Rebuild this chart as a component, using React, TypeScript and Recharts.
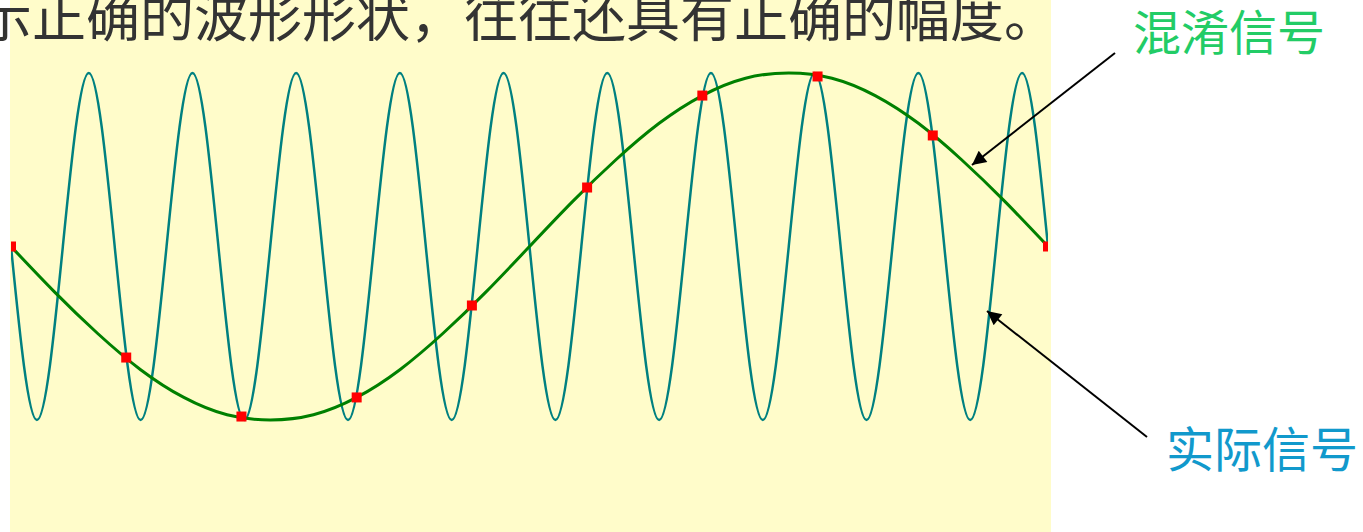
import React from "react";
import { ComposedChart, Line, Scatter, XAxis, YAxis } from "recharts";

// time axis in arbitrary units: actual signal period = 36, sample interval = 40
const actualTime = [
  0, 9, 18, 27, 36, 45, 54, 63, 72, 81, 90, 99, 108, 117, 126, 135, 144, 153,
  162, 171, 180, 189, 198, 207, 216, 225, 234, 243, 252, 261, 270, 279, 288,
  297, 306, 315, 324, 333, 342, 351, 360,
];
const actualValue = [
  0, -1, 0, 1, 0, -1, 0, 1, 0, -1, 0, 1, 0, -1, 0, 1, 0, -1, 0, 1, 0, -1, 0,
  1, 0, -1, 0, 1, 0, -1, 0, 1, 0, -1, 0, 1, 0, -1, 0, 1, 0,
];

const aliasTime = [
  0, 15, 30, 45, 60, 75, 90, 105, 120, 135, 150, 165, 180, 195, 210, 225, 240,
  255, 270, 285, 300, 315, 330, 345, 360,
];
const aliasValue = [
  0, -0.26, -0.5, -0.71, -0.87, -0.97, -1, -0.97, -0.87, -0.71, -0.5, -0.26, 0,
  0.26, 0.5, 0.71, 0.87, 0.97, 1, 0.97, 0.87, 0.71, 0.5, 0.26, 0,
];

const sampleTime = [0, 40, 80, 120, 160, 200, 240, 280, 320, 360];
const sampleValue = [0, -0.64, -0.98, -0.87, -0.34, 0.34, 0.87, 0.98, 0.64, 0];

const titleText = "示正确的波形形状，往往还具有正确的幅度。";
const aliasLabel = "混淆信号";
const actualLabel = "实际信号";

const actualData = actualTime.map((x, i) => ({ x, y: actualValue[i] }));
const aliasData = aliasTime.map((x, i) => ({ x, y: aliasValue[i] }));
const sampleData = sampleTime.map((x, i) => ({ x, y: sampleValue[i] }));

const W = 1363;
const H = 532;
const CJK = '"Noto Sans CJK SC", "Noto Sans", sans-serif';

const SquareDot = (props: any) => {
  const { cx, cy } = props;
  if (cx == null || cy == null) return null;
  return <rect x={cx - 5} y={cy - 5} width={10} height={10} fill="#FF0000" />;
};

export default function App() {
  return (
    <div
      style={{
        position: "fixed",
        left: 0,
        top: 0,
        width: W,
        height: H,
        background: "#ffffff",
        overflow: "hidden",
      }}
    >
      <div
        style={{
          position: "absolute",
          left: 10,
          top: 0,
          width: 1041,
          height: H,
          background: "#FFFCCA",
        }}
      />
      <svg
        width={W}
        height={H}
        style={{ position: "absolute", left: 0, top: 0 }}
      >
        <text x={-22} y={37} fontSize={54} fontFamily={CJK} fill="#333333">
          {titleText}
        </text>
      </svg>
      <div style={{ position: "absolute", left: 0, top: 0 }}>
        <ComposedChart
          width={W}
          height={H}
          margin={{ top: 73, right: 315, bottom: 112, left: 11 }}
        >
          <XAxis
            type="number"
            dataKey="x"
            domain={[0, 360]}
            hide
            allowDataOverflow
          />
          <YAxis type="number" dataKey="y" domain={[-1, 1]} hide />
          <Line
            data={actualData}
            dataKey="y"
            type="natural"
            stroke="#008080"
            strokeWidth={2.5}
            dot={false}
            activeDot={false}
            isAnimationActive={false}
          />
          <Line
            data={aliasData}
            dataKey="y"
            type="natural"
            stroke="#008000"
            strokeWidth={3}
            dot={false}
            activeDot={false}
            isAnimationActive={false}
          />
          <Scatter
            data={sampleData}
            dataKey="y"
            shape={SquareDot}
            isAnimationActive={false}
          />
        </ComposedChart>
      </div>
      <svg
        width={W}
        height={H}
        style={{ position: "absolute", left: 0, top: 0 }}
      >
        <defs>
          <marker
            id="arrowHead"
            viewBox="0 0 10 10"
            refX="10"
            refY="5"
            markerWidth="18"
            markerHeight="14"
            markerUnits="userSpaceOnUse"
            orient="auto"
          >
            <path d="M0,0 L10,5 L0,10 z" fill="#000000" />
          </marker>
        </defs>
        <line
          x1={1115}
          y1={53}
          x2={972}
          y2={165}
          stroke="#000000"
          strokeWidth={2}
          markerEnd="url(#arrowHead)"
        />
        <line
          x1={1147}
          y1={437}
          x2={987}
          y2={311}
          stroke="#000000"
          strokeWidth={2}
          markerEnd="url(#arrowHead)"
        />
        <text x={1133} y={50} fontSize={48} fontFamily={CJK} fill="#22CC66">
          {aliasLabel}
        </text>
        <text x={1166} y={467} fontSize={48} fontFamily={CJK} fill="#1199CC">
          {actualLabel}
        </text>
      </svg>
    </div>
  );
}
